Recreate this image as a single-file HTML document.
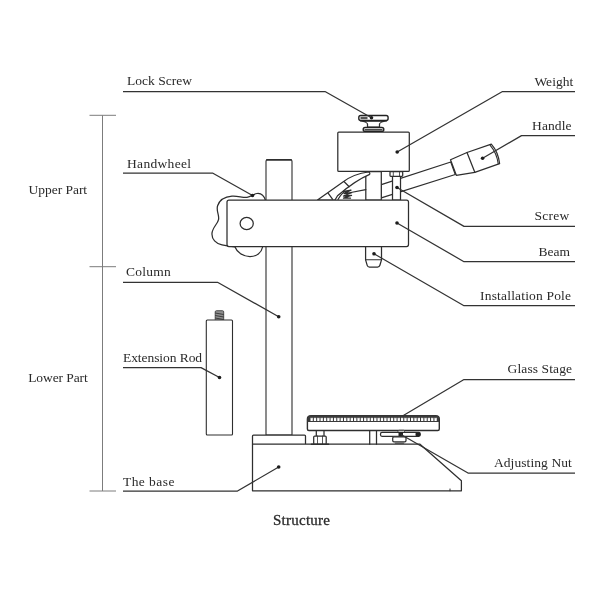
<!DOCTYPE html>
<html lang="en">
<head>
<meta charset="utf-8">
<title>Structure</title>
<style>
html,body{margin:0;padding:0;background:#fff;}
body{width:600px;height:600px;overflow:hidden;}
svg{display:block;filter:grayscale(1);}
text{font-family:"Liberation Serif","Times New Roman",serif;font-size:13.5px;fill:#2a2a2a;}
.ln{fill:none;stroke:#2e2e2e;stroke-width:1.25;stroke-linecap:round;stroke-linejoin:round;}
.sh{fill:#fff;stroke:#2e2e2e;stroke-width:1.25;stroke-linejoin:round;}
.ld{fill:none;stroke:#333;stroke-width:1.25;stroke-linejoin:round;}
.br{fill:none;stroke:#7c7c7c;stroke-width:1;}
.dot{fill:#1c1c1c;}
</style>
</head>
<body>
<svg width="600" height="600" viewBox="0 0 600 600">
<rect width="600" height="600" fill="#fff"/>

<!-- bracket -->
<g class="br">
<path d="M102.500 115.300V491"/>
<path d="M89.500 115.300H116"/>
<path d="M89.500 266.700H116"/>
<path d="M89.500 491H116"/>
</g>

<!-- handwheel (behind beam) -->
<path class="sh" d="M265.500 200.500 C264 195.500 261 193 257 193.500 C253.500 194 251 197 247 197.300 C242 197.600 238 195.800 232 196.200 C225 196.800 219.500 200 217.600 205.800 C216 210.800 219.300 214.800 218.600 219.300 C217.800 223.800 212.500 227.300 212 233.300 C211.500 239.300 216 243.800 222 244.900 L227.500 245.800 L235 247 C237 252.300 243 256.600 250 256.600 C256.500 256.600 261.500 252.800 262.600 247 Z"/>

<!-- column -->
<path class="sh" d="M266 435V161.500Q266 159.500 268 159.500H290Q292 159.500 292 161.500V435Z" style="stroke-width:1.100"/>
<path class="ln" d="M267 159.800H291" style="stroke-width:1.800"/>

<!-- base -->
<path class="sh" d="M252.500 444.200V436Q252.500 435 253.500 435H304.500Q305.500 435 305.500 436V444.200"/>
<path class="sh" d="M252.500 444.200H420L461.400 480.800V490.800H252.500Z"/>
<path class="ln" d="M450 489v1.800" style="stroke-width:1"/>

<!-- extension rod -->
<rect x="215.200" y="310.700" width="8.500" height="10" rx="1.200" fill="#909090" stroke="#444" stroke-width="0.900"/>
<path d="M215.200 313l8.500 1.500M215.200 315.500l8.500 1.500M215.200 318l8.500 1.500" stroke="#333" stroke-width="0.900" fill="none"/>
<rect class="sh" x="206.300" y="320" width="26.200" height="115" rx="1" style="stroke-width:1.100"/>

<!-- handle rod + grip -->
<path class="sh" d="M381.300 184.700L450.800 162L455.300 174.500L381.300 197.800Z"/>
<path class="sh" d="M450.500 159.700L467 152.500L491.300 144.100Q498.300 152 499.600 163.600L474.800 172.300L456.300 175.300Z"/>
<path class="ln" d="M467 152.500L474.800 172.300"/>
<path class="ln" d="M490.200 145.300Q496.800 153 498.200 163.600" style="stroke-width:1.100"/>

<!-- central post -->
<rect class="sh" x="365.800" y="171.500" width="15.500" height="28.500"/>

<!-- arm / spring area under weight -->
<path class="sh" d="M317.500 200L343.300 181.700C349 177.500 358 173.300 368.300 172C370 172.300 370.300 174 369.200 174.700C360 178.500 349 186 337.500 195.800L335 200Z"/>
<g class="ln">
<path d="M328.300 193.300L332.500 199.200"/>
<path d="M344.200 181.700L349.200 186.700"/>
<path d="M350.800 192.500L365.800 189.700"/>
<path d="M338 199.500C340 196 342 193 345 191.500" />
<path d="M343.500 191.500l7.500 -1.300l-7 3.300l7.500 -0.800l-8 3.300l8 -0.500l-8 2.700l7 0" style="stroke-width:1.300"/>
</g>

<!-- screw -->
<rect class="sh" x="392.500" y="175.500" width="8" height="24.500"/>
<rect class="sh" x="390" y="171.500" width="12.700" height="4.800" rx="0.800"/>
<path class="ln" d="M393.300 171.500v4.800M399.500 171.500v4.800" style="stroke-width:0.800"/>

<!-- weight -->
<rect class="sh" x="337.800" y="132" width="71.500" height="39.400" rx="1"/>

<!-- lock screw -->
<path class="sh" d="M360.500 121C364 121.500 367.300 122.300 367.500 124V127H379.500V124C379.700 122.300 383 121.500 386.500 121Z"/>
<rect x="358.800" y="115.500" width="29.300" height="5" rx="2" fill="#fff" stroke="#222" stroke-width="1.400"/>
<path d="M360.500 118h7" stroke="#555" stroke-width="2.400" fill="none"/>
<rect x="363.200" y="127.500" width="20.600" height="3.800" rx="1.900" fill="#fff" stroke="#222" stroke-width="1.400"/>
<path d="M364.500 129.700h18" stroke="#333" stroke-width="1.200"/>

<!-- installation pole -->
<path class="sh" d="M365.600 246V259.800L367.200 265.300Q367.700 267 369.500 267H377.600Q379.400 267 379.900 265.300L381.500 259.800V246Z"/>
<path class="ln" d="M365.600 259.800H381.500" style="stroke-width:1.100"/>

<!-- beam -->
<rect class="sh" x="227" y="200" width="181.500" height="46.500" rx="2"/>
<ellipse class="sh" cx="246.700" cy="223.500" rx="6.600" ry="6.100"/>


<!-- glass stage -->
<path class="sh" d="M307.400 419V429Q307.400 430.500 308.900 430.500H437.800Q439.300 430.500 439.300 429V419Q439.300 415.600 435.500 415.600H311.200Q307.400 415.600 307.400 419Z" style="stroke-width:1.400"/>
<path d="M307.400 422V419Q307.400 415.600 311.200 415.600H435.500Q439.300 415.600 439.300 419V422Z" fill="#3a3a3a"/>
<path d="M310.500 419.300H437" stroke="#fff" stroke-width="3.200" stroke-dasharray="2.300 1.050" fill="none"/>
<path d="M310.500 417.800H437" stroke="#3a3a3a" stroke-width="0.900" stroke-dasharray="1.100 2.250" stroke-dashoffset="-0.600" fill="none" opacity="0.550"/>
<!-- left nut -->
<rect class="sh" x="316.300" y="430.500" width="7.700" height="6"/>
<rect class="sh" x="313.700" y="436" width="12.500" height="8.200" rx="1"/>
<path class="ln" d="M317.500 436v8M322.500 436v8" style="stroke-width:0.800"/>
<path class="ln" d="M311.500 444.200H328.500" style="stroke-width:1.600"/>
<!-- support verticals -->
<path class="ln" d="M369.700 430.500V444.200M376.500 430.500V444.200"/>
<!-- adjusting nut -->
<rect class="sh" x="398" y="430.300" width="6.500" height="2.500" rx="1" style="stroke-width:0.900"/>
<rect class="sh" x="380.500" y="432.400" width="39.700" height="3.900" rx="1.500"/>
<rect x="415.500" y="432.400" width="4.900" height="3.900" rx="1.300" fill="#222"/>
<rect x="398.500" y="432.400" width="4.500" height="3.900" fill="#222"/>
<rect class="sh" x="392.700" y="436.800" width="13.300" height="5" rx="1.300"/>
<path class="ln" d="M395.500 443.200H403.500" style="stroke-width:1.600;stroke:#555"/>

<!-- leaders -->
<g class="ld">
<path d="M123 91.500H325L371.500 117.700"/>
<path d="M123 173H212.500L252.500 195.500"/>
<path d="M123 282.300H217.500L278.700 316.700"/>
<path d="M123 367.600H201L219.500 377.500"/>
<path d="M123 491H237.500L278.700 467"/>
<path d="M575 91.500H502.500L397.200 152"/>
<path d="M575 135.600H521.500L482.600 158.300"/>
<path d="M575 226.400H464L397 187.500"/>
<path d="M575 261.700H464L397 223"/>
<path d="M575 305.700H464L374 253.800"/>
<path d="M575 379.500H464L402.500 416"/>
<path d="M575 473H468L401 434.500"/>
</g>
<g class="dot">
<circle cx="371.500" cy="117.700" r="1.800"/>
<circle cx="252.500" cy="195.500" r="1.800"/>
<circle cx="278.700" cy="316.700" r="1.800"/>
<circle cx="219.500" cy="377.500" r="1.800"/>
<circle cx="278.700" cy="467" r="1.800"/>
<circle cx="397.200" cy="152" r="1.800"/>
<circle cx="482.600" cy="158.300" r="1.800"/>
<circle cx="397" cy="187.500" r="1.800"/>
<circle cx="397" cy="223" r="1.800"/>
<circle cx="374" cy="253.800" r="1.800"/>
</g>

<!-- labels -->
<text x="127" y="85" textLength="65.1" lengthAdjust="spacing">Lock Screw</text>
<text x="127" y="168" textLength="64.1" lengthAdjust="spacing">Handwheel</text>
<text x="126" y="276" textLength="44.8" lengthAdjust="spacing">Column</text>
<text x="123" y="362" textLength="79.1" lengthAdjust="spacing">Extension Rod</text>
<text x="123" y="486" textLength="51.4" lengthAdjust="spacing">The base</text>
<text x="28.6" y="194" textLength="58.5" lengthAdjust="spacing">Upper Part</text>
<text x="28.2" y="382" textLength="59.6" lengthAdjust="spacing">Lower Part</text>
<text x="534.4" y="86" textLength="38.9" lengthAdjust="spacing">Weight</text>
<text x="532.1" y="130" textLength="39.4" lengthAdjust="spacing">Handle</text>
<text x="534.6" y="220" textLength="34.6" lengthAdjust="spacing">Screw</text>
<text x="538.5" y="256" textLength="31.6" lengthAdjust="spacing">Beam</text>
<text x="480.1" y="300" textLength="90.9" lengthAdjust="spacing">Installation Pole</text>
<text x="507.6" y="373" textLength="64.4" lengthAdjust="spacing">Glass Stage</text>
<text x="493.9" y="467" textLength="77.9" lengthAdjust="spacing">Adjusting Nut</text>
<text x="273" y="525" textLength="57" lengthAdjust="spacing" style="font-size:15px;stroke:#2a2a2a;stroke-width:0.3px">Structure</text>
</svg>
</body>
</html>
